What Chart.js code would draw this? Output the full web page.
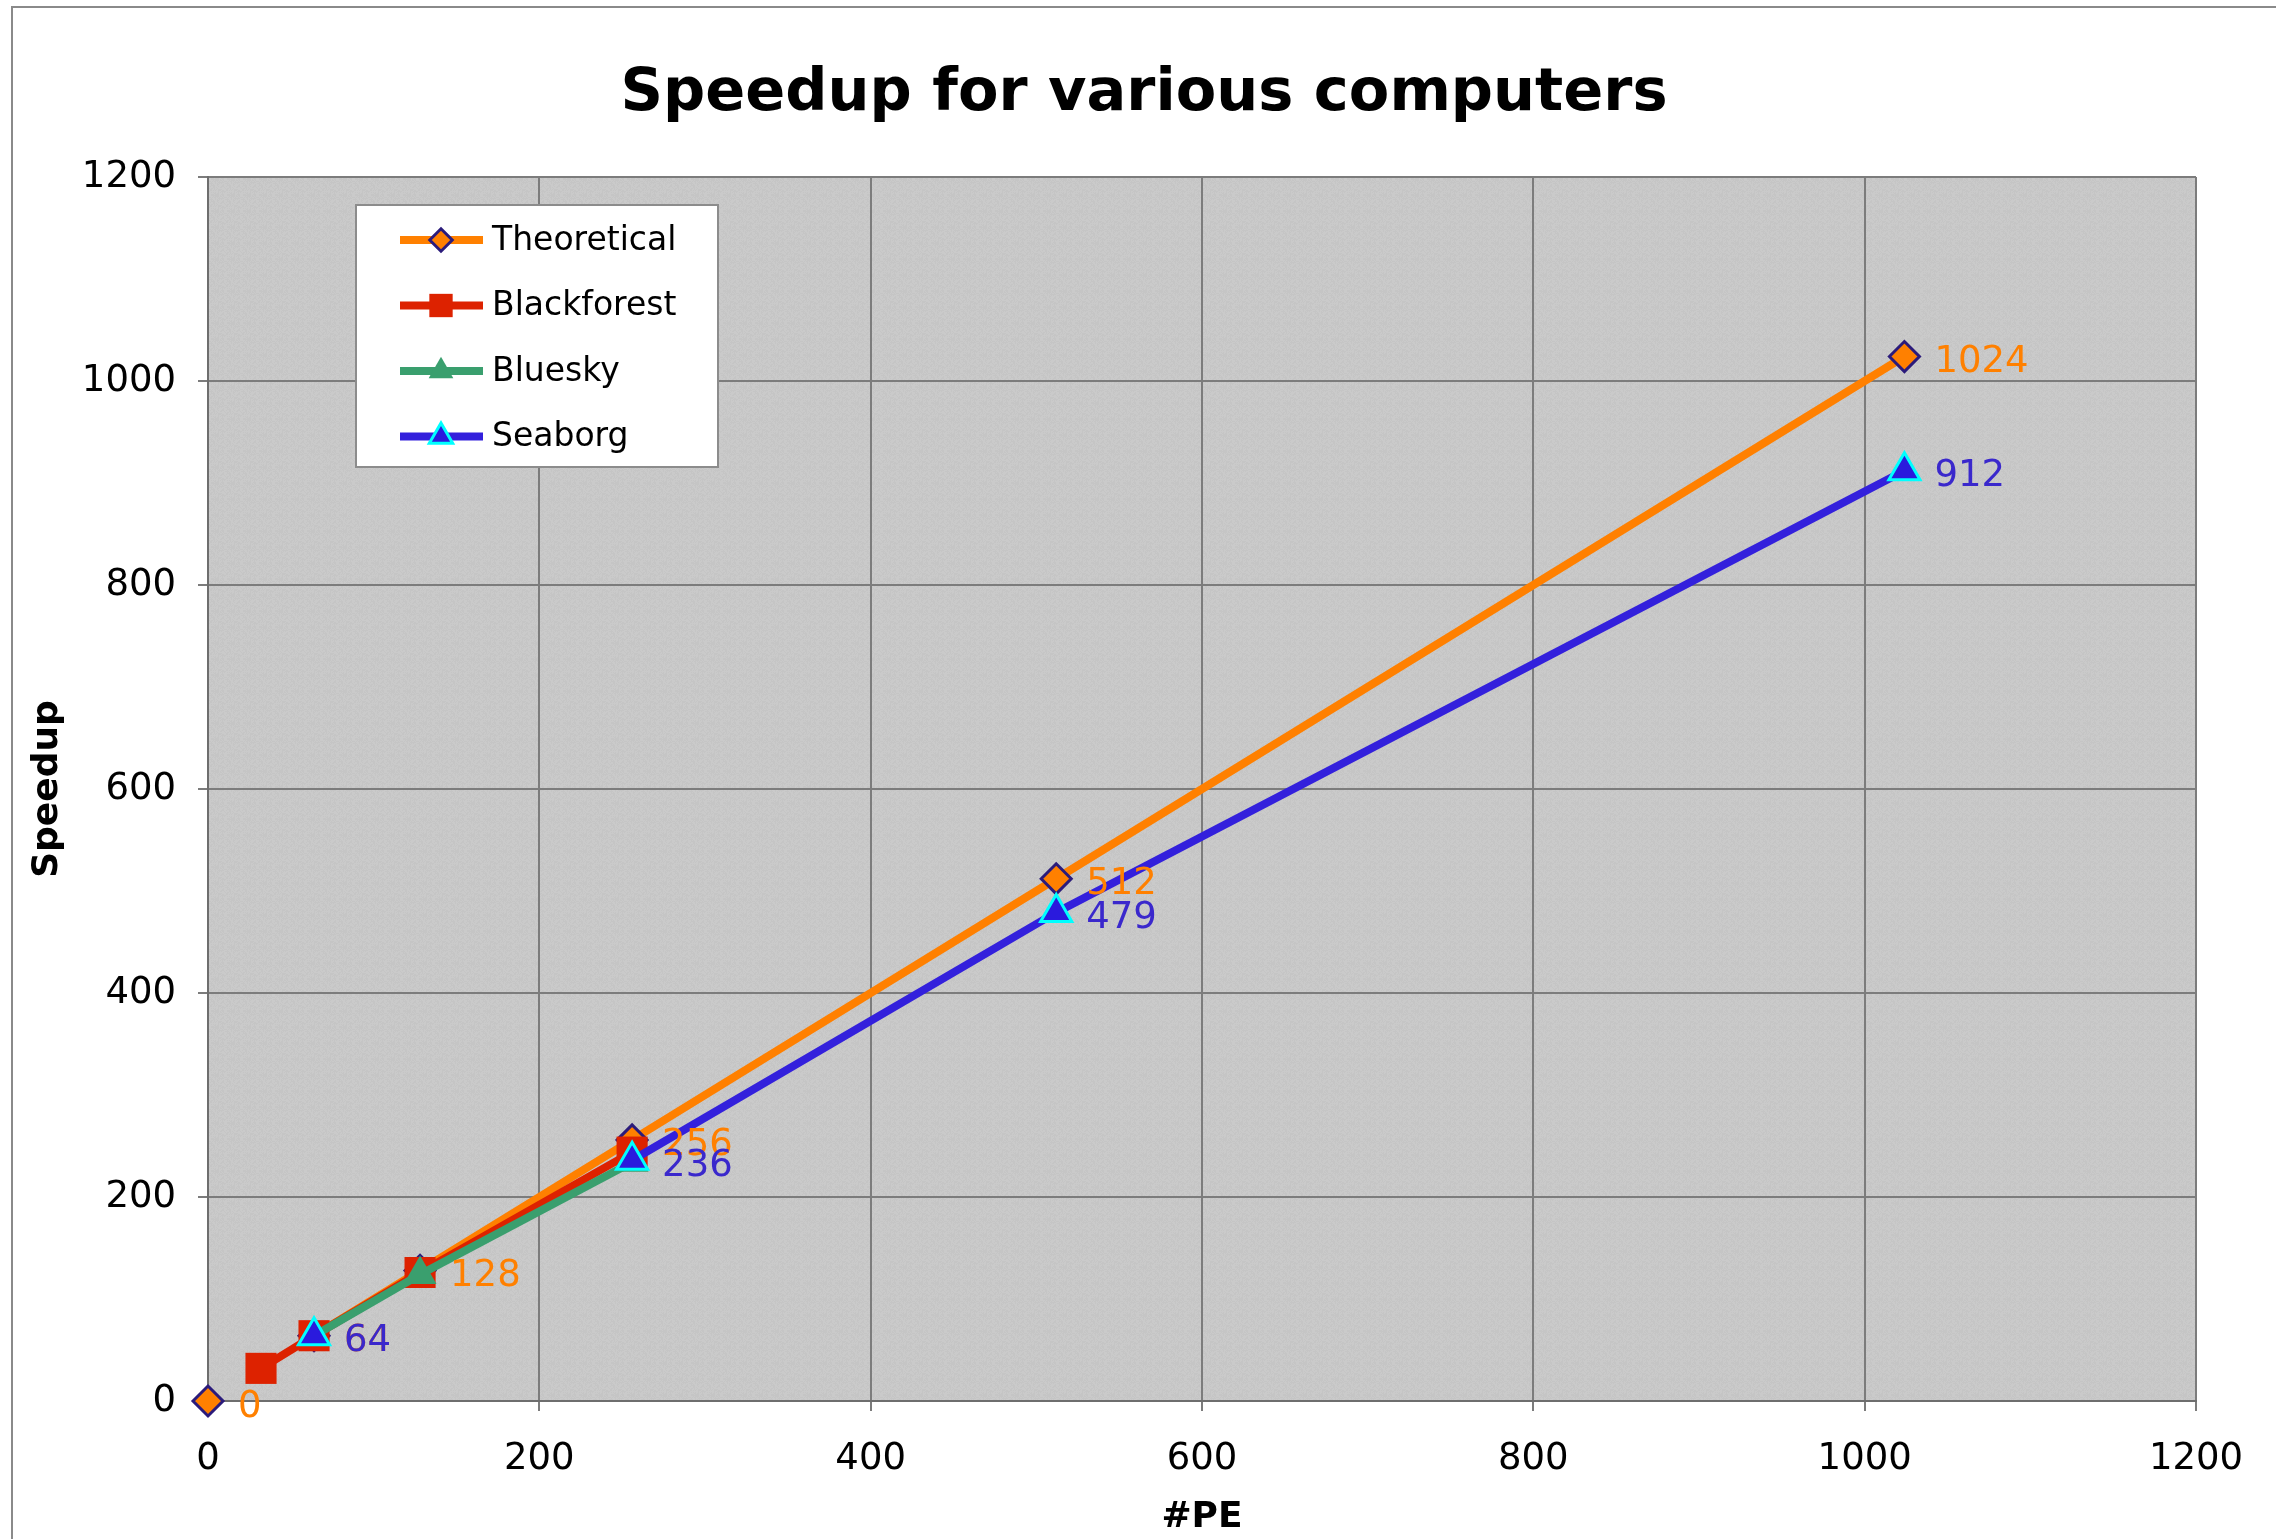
<!DOCTYPE html>
<html>
<head>
<meta charset="utf-8">
<title>Speedup for various computers</title>
<script src="https://cdn.jsdelivr.net/npm/chart.js@4.4.1/dist/chart.umd.min.js"></script>
<style>
  html, body { margin: 0; padding: 0; background: #fff; }
  canvas { display: block; }
</style>
</head>
<body>
<canvas id="grafico" width="2276" height="1539"></canvas>
<script>
// DATA (#PE on x, speedup on y; null = empty cell, line breaks there)
let pe = [0, 32, 64, 128, 256, 512, 1024];
let theoretical = [0, null, 64, 128, 256, 512, 1024];
let blackforest = [null, 32, 64, 126, 244, null, null];
let bluesky = [null, null, 64, 124, 234, null, null];
let seaborg = [null, null, 64, null, 236, 479, 912];
let axisTicks = [0, 200, 400, 600, 800, 1000, 1200];

let titulo = "Speedup for various computers";
let fonte = "DejaVu Sans";

function pontos(valores) {
  return pe.map(function (x, i) {
    return { x: x, y: valores[i] };
  });
}

function fixarTicks(scale) {
  scale.ticks = axisTicks.map(function (v) { return { value: v }; });
}

// series styles
let series = [
  { label: "Theoretical", valores: theoretical, cor: "#FF8000", estilo: "rectRot", raio: 15, fundo: "#FF8000", borda: "#2B1B7B", bordaLarg: 3, rotulo: "#FF8000" },
  { label: "Blackforest", valores: blackforest, cor: "#DD2200", estilo: "rect", raio: 22, fundo: "#DD2200", borda: "#DD2200", bordaLarg: 0, rotulo: null },
  { label: "Bluesky", valores: bluesky, cor: "#3A9F6E", estilo: "triangle", raio: 19, fundo: "#3A9F6E", borda: "#3A9F6E", bordaLarg: 0, rotulo: null },
  { label: "Seaborg", valores: seaborg, cor: "#3320DC", estilo: "triangle", raio: 18, fundo: "#2A1ADD", borda: "#00FFFF", bordaLarg: 3, rotulo: "#3A28CC" }
];

// grainy gray fill for the plot area
function texturaCinza(ctx) {
  let n = 16;
  let t = document.createElement("canvas");
  t.width = n;
  t.height = n;
  let tc = t.getContext("2d");
  for (let y = 0; y < n; y++) {
    for (let x = 0; x < n; x++) {
      let k = ((x * 73 + y * 151) ^ (x * y * 31 + y)) % 7;
      tc.fillStyle = k < 3 ? "#c5c5c5" : "#cacaca";
      tc.fillRect(x, y, 1, 1);
    }
  }
  return ctx.createPattern(t, "repeat");
}

// FUNDO: frame, title and gray plot area
let fundo = {
  id: "fundo",
  beforeDraw(chart) {
    let ctx = chart.ctx;
    let a = chart.chartArea;
    ctx.save();
    ctx.fillStyle = "#ffffff";
    ctx.fillRect(0, 0, chart.width, chart.height);
    ctx.strokeStyle = "#8a8a8a";
    ctx.lineWidth = 2;
    ctx.beginPath();
    ctx.moveTo(12, chart.height);
    ctx.lineTo(12, 7);
    ctx.lineTo(chart.width, 7);
    ctx.stroke();

    ctx.fillStyle = "#000000";
    ctx.font = "bold 59px '" + fonte + "'";
    ctx.textAlign = "center";
    ctx.textBaseline = "alphabetic";
    ctx.fillText(titulo, 1144, 110);

    ctx.fillStyle = texturaCinza(ctx);
    ctx.fillRect(a.left, a.top, a.right - a.left, a.bottom - a.top);
    ctx.restore();
  }
};

// ROTULOS: value labels to the right of the points
let rotulos = {
  id: "rotulos",
  afterDatasetsDraw(chart) {
    let ctx = chart.ctx;
    ctx.save();
    ctx.font = "37px '" + fonte + "'";
    ctx.textAlign = "left";
    ctx.textBaseline = "middle";
    series.forEach(function (s, i) {
      if (!s.rotulo) return;
      let meta = chart.getDatasetMeta(i);
      ctx.fillStyle = s.rotulo;
      meta.data.forEach(function (p, j) {
        let v = s.valores[j];
        if (v === null) return;
        ctx.fillText(String(v), p.x + 30, p.y + 6);
      });
    });
    ctx.restore();
  }
};

// LEGENDA: boxed legend inside the plot
let legenda = {
  id: "legenda",
  afterDraw(chart) {
    let ctx = chart.ctx;
    let a = chart.chartArea;
    let x0 = a.left + 148;
    let y0 = a.top + 28;
    ctx.save();
    ctx.fillStyle = "#ffffff";
    ctx.fillRect(x0, y0, 362, 262);
    ctx.strokeStyle = "#8c8c8c";
    ctx.lineWidth = 2;
    ctx.strokeRect(x0, y0, 362, 262);

    series.forEach(function (s, i) {
      let y = y0 + 35 + i * 65.5;
      ctx.strokeStyle = s.cor;
      ctx.lineWidth = 8;
      ctx.beginPath();
      ctx.moveTo(x0 + 44, y);
      ctx.lineTo(x0 + 127, y);
      ctx.stroke();

      ctx.fillStyle = s.fundo;
      ctx.strokeStyle = s.borda;
      ctx.lineWidth = s.bordaLarg;
      Chart.helpers.drawPoint(ctx, {
        pointStyle: s.estilo,
        radius: s.raio * 0.75,
        borderWidth: s.bordaLarg,
        rotation: 0
      }, x0 + 85, y);

      ctx.fillStyle = "#000000";
      ctx.font = "33px '" + fonte + "'";
      ctx.textAlign = "left";
      ctx.textBaseline = "middle";
      ctx.fillText(s.label, x0 + 136, y + 1);
    });
    ctx.restore();
  }
};

let ctx = document.getElementById("grafico").getContext("2d");

let grafico = new Chart(ctx, {
  type: "line",
  data: {
    datasets: series.map(function (s, i) {
      return {
        label: s.label,
        data: pontos(s.valores),
        borderColor: s.cor,
        backgroundColor: s.fundo,
        borderWidth: 8,
        pointStyle: s.estilo,
        pointRadius: s.raio,
        pointBackgroundColor: s.fundo,
        pointBorderColor: s.borda,
        pointBorderWidth: s.bordaLarg,
        tension: 0,
        spanGaps: false,
        clip: false,
        order: series.length - i
      };
    })
  },
  options: {
    responsive: false,
    animation: false,
    events: [],
    layout: { padding: { left: 0, right: 80, top: 177, bottom: 0 } },
    plugins: {
      legend: { display: false },
      tooltip: { enabled: false },
      title: { display: false }
    },
    scales: {
      x: {
        type: "linear",
        min: 0,
        max: 1200,
        afterBuildTicks: fixarTicks,
        afterFit: function (s) { s.height = 138; },
        grid: { color: "#7c7c7c", lineWidth: 2, tickLength: 10, tickColor: "#7c7c7c" },
        border: { color: "#6e6e6e", width: 2 },
        ticks: {
          color: "#000000", font: { family: fonte, size: 37 }, padding: 26, maxRotation: 0, autoSkip: false,
          callback: function (v) { return String(v); }
        },
        title: { display: true, text: "#PE", color: "#000000", font: { family: fonte, size: 36, weight: "bold" }, padding: { top: 0, bottom: 0 } }
      },
      y: {
        type: "linear",
        min: 0,
        max: 1200,
        afterBuildTicks: fixarTicks,
        afterFit: function (s) { s.width = 208; },
        grid: { color: "#7c7c7c", lineWidth: 2, tickLength: 10, tickColor: "#7c7c7c" },
        border: { color: "#6e6e6e", width: 2 },
        ticks: {
          color: "#000000", font: { family: fonte, size: 37 }, padding: 22, autoSkip: false,
          callback: function (v) { return String(v); }
        },
        title: { display: true, text: "Speedup", color: "#000000", font: { family: fonte, size: 36, weight: "bold" }, padding: { top: 26, bottom: 0 } }
      }
    }
  },
  plugins: [fundo, rotulos, legenda]
});
</script>
</body>
</html>
